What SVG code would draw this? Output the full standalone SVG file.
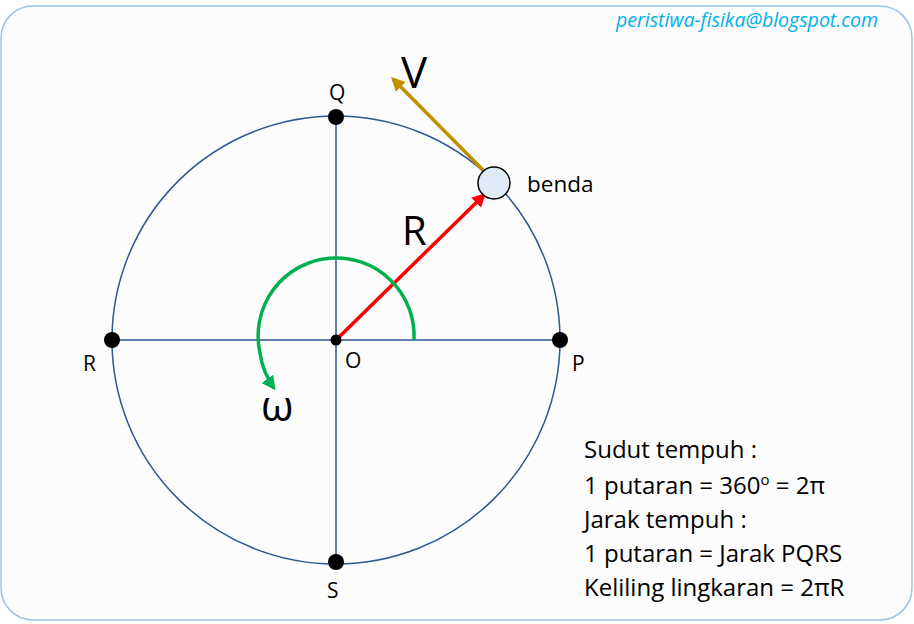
<svg xmlns="http://www.w3.org/2000/svg" width="914" height="624" viewBox="0 0 914 624">
<defs>
<style>
.lbl{font-family:"Open Sans","Liberation Sans",sans-serif;fill:#000}
.ax{stroke:#2f5597;stroke-width:1.5;fill:none}
.dot{fill:#000}
</style>
<marker id="ar" viewBox="0 0 10 10" refX="8" refY="5" markerWidth="4" markerHeight="4" orient="auto"><path d="M0,0 L10,5 L0,10 z" fill="red"/></marker>
<marker id="ag" viewBox="0 0 10 10" refX="8" refY="5" markerWidth="4" markerHeight="4" orient="auto"><path d="M0,0 L10,5 L0,10 z" fill="#bf9000"/></marker>
<marker id="aw" viewBox="0 0 10 10" refX="8" refY="5" markerWidth="4" markerHeight="4" orient="auto"><path d="M0,0 L10,5 L0,10 z" fill="#00b050"/></marker>
</defs>
<rect x="1" y="6" width="911" height="614" rx="32" fill="#fbfcfb" stroke="#9dc3e6" stroke-width="1.5"/>
<text x="878" y="27" text-anchor="end" font-family="Open Sans,Liberation Sans,sans-serif" font-style="italic" font-size="19.5" fill="#00b0f0">peristiwa-fisika@blogspot.com</text>
<g id="circle"><circle cx="336" cy="340" r="224" class="ax"/></g>
<g id="connectors">
<line x1="112" y1="340" x2="560" y2="340" class="ax"/>
<line x1="336" y1="117" x2="336" y2="562" class="ax"/>
<line x1="336" y1="340" x2="484" y2="195" stroke="red" stroke-width="3.5" marker-end="url(#ar)"/>
<line x1="483" y1="170" x2="393" y2="79" stroke="#bf9000" stroke-width="3.5" marker-end="url(#ag)"/>
<path d="M414,340 A78,78 0 1 0 260,353 A78,78 0 0 0 274,388" fill="none" stroke="#00b050" stroke-width="3.5" marker-end="url(#aw)"/>
</g>
<g id="O"><circle cx="336" cy="340" r="5.5" class="dot"/><text x="345" y="368" class="lbl" font-size="21">O</text></g>
<g id="P"><circle cx="560" cy="340" r="8" class="dot"/><text x="572" y="371" class="lbl" font-size="21">P</text></g>
<g id="Q"><circle cx="336" cy="117" r="8" class="dot"/><text x="329" y="100" class="lbl" font-size="21">Q</text></g>
<g id="R"><circle cx="112" cy="340" r="8" class="dot"/><text x="83" y="371" class="lbl" font-size="21">R</text></g>
<g id="S"><circle cx="336" cy="562" r="8" class="dot"/><text x="327" y="598" class="lbl" font-size="21">S</text></g>
<g id="benda"><circle cx="494" cy="183" r="16" fill="#deebf7" stroke="#000" stroke-width="1.5"/><text x="527" y="192" class="lbl" font-size="22.5">benda</text></g>
<text x="402" y="245" class="lbl" font-size="40">R</text>
<text x="401" y="88" class="lbl" font-size="44">V</text>
<text x="261" y="421" class="lbl" font-size="42">ω</text>
<g id="info" class="lbl" font-size="24">
<text x="584" y="458">Sudut tempuh :</text>
<text x="584" y="494">1 putaran = 360<tspan dy="-9" font-size="15">o</tspan><tspan dy="9"> = 2π</tspan></text>
<text x="584" y="528">Jarak tempuh :</text>
<text x="584" y="562">1 putaran = Jarak PQRS</text>
<text x="584" y="596">Keliling lingkaran = 2πR</text>
</g>
</svg>
